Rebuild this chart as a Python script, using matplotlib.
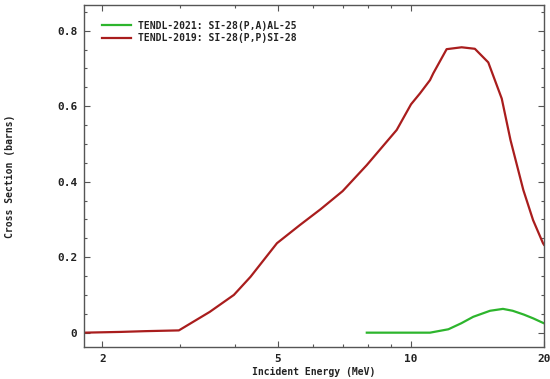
import matplotlib
matplotlib.use("Agg")
import matplotlib.pyplot as plt
from matplotlib.ticker import FixedLocator, NullFormatter, FixedFormatter

# Data
pp_energy = [1.82, 2.0, 2.2, 2.5, 2.98, 3.5, 3.97, 4.33, 4.97, 5.6, 6.24, 7.0, 7.94, 9.28,
             10.0, 10.48, 11.04, 11.23, 12.04, 13.02, 13.95, 14.96, 16.05, 16.8, 17.96,
             18.9, 19.9, 20.0]
pp_xs = [0.0, 0.001, 0.002, 0.004, 0.006, 0.055, 0.10, 0.148, 0.237, 0.285, 0.327, 0.375,
         0.444, 0.537, 0.605, 0.634, 0.669, 0.687, 0.751, 0.756, 0.752, 0.716, 0.62,
         0.51, 0.378, 0.298, 0.237, 0.233]

pa_energy = [7.94, 9.0, 10.0, 11.04, 12.15, 13.0, 13.83, 15.1, 16.15, 16.99, 18.0, 18.9, 19.9, 20.0]
pa_xs = [0.0, 0.0, 0.0, 0.0, 0.009, 0.025, 0.042, 0.058, 0.063, 0.058, 0.048, 0.038, 0.026, 0.025]

label_pa = "TENDL-2021: SI-28(P,A)AL-25"
label_pp = "TENDL-2019: SI-28(P,P)SI-28"

x_major = [2, 5, 10, 20]
x_major_labels = ["2", "5", "10", "20"]
x_minor = [3, 4, 6, 7, 8, 9]
y_major = [0, 0.2, 0.4, 0.6, 0.8]
y_major_labels = ["0", "0.2", "0.4", "0.6", "0.8"]
y_minor = [-0.05 + 0.05 * i for i in range(19)]

fig = plt.figure(figsize=(5.5, 3.79), dpi=100)
ax = fig.add_axes([0.1533, 0.0844, 0.8357, 0.9024])

font = {"family": "DejaVu Sans Mono", "weight": "bold", "size": 7}

ax.plot(pa_energy, pa_xs, color="#2db52d", lw=1.6, label=label_pa)
ax.plot(pp_energy, pp_xs, color="#a91d1d", lw=1.6, label=label_pp)

ax.set_xscale("log")
ax.set_xlim(1.82, 20)
ax.set_ylim(-0.038, 0.868)

ax.xaxis.set_major_locator(FixedLocator(x_major))
ax.xaxis.set_major_formatter(FixedFormatter(x_major_labels))
ax.xaxis.set_minor_locator(FixedLocator(x_minor))
ax.xaxis.set_minor_formatter(NullFormatter())
ax.yaxis.set_major_locator(FixedLocator(y_major))
ax.yaxis.set_major_formatter(FixedFormatter(y_major_labels))
ax.yaxis.set_minor_locator(FixedLocator([v for v in y_minor if all(abs(v - m) > 1e-6 for m in y_major)]))

ax.tick_params(which="both", direction="in", top=True, right=True, colors="#555555",
               labelcolor="#222222", width=0.8)
ax.tick_params(which="major", length=4.5, pad=5)
ax.tick_params(which="minor", length=2.5)
for lab in ax.get_xticklabels() + ax.get_yticklabels():
    lab.set_fontfamily("DejaVu Sans Mono")
    lab.set_fontweight("bold")
    lab.set_fontsize(8)

for s in ax.spines.values():
    s.set_color("#555555")
    s.set_linewidth(1.0)

ax.set_xlabel("Incident Energy (MeV)", fontdict=font, color="#222222", labelpad=2)
ax.set_ylabel("Cross Section (barns)", fontdict=font, color="#222222", labelpad=30)

leg = ax.legend(loc="upper left", bbox_to_anchor=(0.029, 0.965), frameon=False,
                prop={"family": "DejaVu Sans Mono", "weight": "bold", "size": 7},
                handlelength=3.0, handletextpad=0.7, labelspacing=0.25, borderaxespad=0)
for t in leg.get_texts():
    t.set_color("#222222")

fig.savefig("out.png", dpi=100)
